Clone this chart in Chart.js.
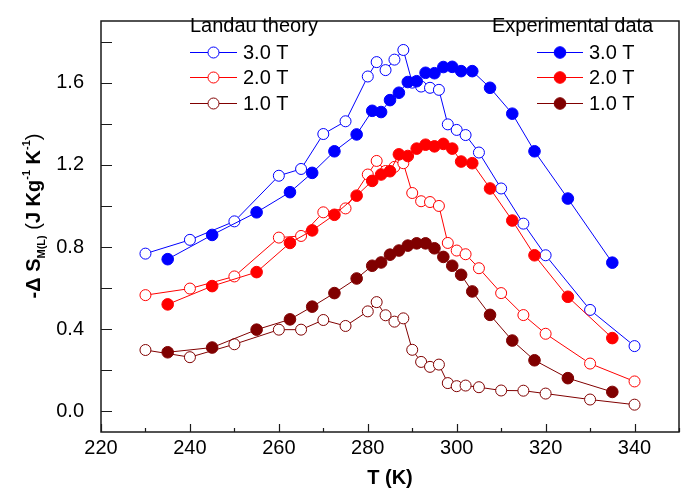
<!DOCTYPE html>
<html>
<head>
<meta charset="utf-8">
<script src="https://cdn.jsdelivr.net/npm/chart.js@4"></script>
<style>
  body { margin: 0; background: #fff; }
  canvas { display: block; }
</style>
</head>
<body>
<canvas id="chart" width="688" height="494"></canvas>
<script>
// Temperatures (K)
const tempLandau = [230, 240, 250, 260, 265, 270, 275, 280, 282, 284, 286, 288, 290, 292, 294, 296, 298, 300, 302, 305, 310, 315, 320, 330, 340];
const tempExp = [235, 245, 255, 262.5, 267.5, 272.5, 277.5, 281, 283, 285, 287, 289, 291, 293, 295, 297, 299, 301, 303.5, 307.5, 312.5, 317.5, 325, 335];

// Landau theory, -dS (J/kg K)
const landau3T = [0.768, 0.835, 0.925, 1.147, 1.180, 1.350, 1.412, 1.630, 1.700, 1.661, 1.712, 1.759, 1.600, 1.581, 1.575, 1.565, 1.397, 1.370, 1.345, 1.260, 1.085, 0.914, 0.760, 0.494, 0.318];
const landau2T = [0.566, 0.598, 0.657, 0.846, 0.854, 0.969, 0.988, 1.153, 1.219, 1.170, 1.190, 1.208, 1.063, 1.023, 1.019, 1.000, 0.820, 0.783, 0.765, 0.697, 0.576, 0.469, 0.378, 0.233, 0.146];
const landau1T = [0.299, 0.264, 0.327, 0.398, 0.398, 0.445, 0.416, 0.487, 0.532, 0.468, 0.437, 0.453, 0.300, 0.241, 0.217, 0.228, 0.138, 0.123, 0.126, 0.118, 0.102, 0.101, 0.087, 0.058, 0.033];

// Experimental data
const exp3T = [0.741, 0.859, 0.969, 1.067, 1.161, 1.266, 1.348, 1.463, 1.457, 1.515, 1.551, 1.603, 1.607, 1.648, 1.646, 1.676, 1.677, 1.656, 1.656, 1.575, 1.449, 1.266, 1.036, 0.724];
const exp2T = [0.521, 0.610, 0.678, 0.820, 0.881, 0.957, 1.050, 1.122, 1.153, 1.169, 1.251, 1.243, 1.279, 1.298, 1.290, 1.302, 1.279, 1.216, 1.208, 1.085, 0.929, 0.760, 0.558, 0.357];
const exp1T = [0.288, 0.311, 0.398, 0.448, 0.510, 0.576, 0.647, 0.709, 0.725, 0.763, 0.783, 0.807, 0.818, 0.818, 0.794, 0.752, 0.709, 0.665, 0.584, 0.470, 0.345, 0.249, 0.162, 0.095];

const fieldLabels = ['3.0 T', '2.0 T', '1.0 T'];
const xTicks = [220, 230, 240, 250, 260, 270, 280, 290, 300, 310, 320, 330, 340, 350];
const yTicks = [0, 0.2, 0.4, 0.6, 0.8, 1.0, 1.2, 1.4, 1.6, 1.8];

const colors = ['#0000ff', '#ff0000', '#800000'];
const FONT = 'Arial, "Liberation Sans", sans-serif';

const toPoints = (xs, ys) => xs.map((x, i) => ({ x: x, y: ys[i] }));

function openSet(label, data, color) {
  return {
    label: label,
    data: toPoints(tempLandau, data),
    showLine: true,
    borderColor: color,
    borderWidth: 1,
    pointRadius: 5.5,
    pointBorderWidth: 1,
    pointBackgroundColor: '#ffffff',
    pointBorderColor: color
  };
}

function filledSet(label, data, color) {
  return {
    label: label,
    data: toPoints(tempExp, data),
    showLine: true,
    borderColor: color,
    borderWidth: 1,
    pointRadius: 5.8,
    pointBorderWidth: 1,
    pointBackgroundColor: color,
    pointBorderColor: color
  };
}

// frame, inward ticks, legends and axis titles
const decorations = {
  id: 'decorations',
  afterDraw(chart) {
    const ctx = chart.ctx;
    const a = chart.chartArea;
    const xs = chart.scales.x, ys = chart.scales.y;
    ctx.save();
    ctx.strokeStyle = '#1a1a1a';
    ctx.lineWidth = 1.5;
    ctx.strokeRect(a.left, a.top, a.right - a.left, a.bottom - a.top);

    ctx.lineWidth = 1.2;
    ctx.beginPath();
    xTicks.forEach(t => {
      const px = Math.round(xs.getPixelForValue(t)) + 0.5;
      const len = t % 20 === 0 ? 8 : 4;
      ctx.moveTo(px, a.bottom);
      ctx.lineTo(px, a.bottom - len);
    });
    yTicks.forEach(t => {
      const py = Math.round(ys.getPixelForValue(t)) + 0.5;
      ctx.moveTo(a.left, py);
      ctx.lineTo(a.left + 11, py);
    });
    ctx.stroke();

    // legends
    function legendGroup(title, x0, lineL, lineR, textX, filled) {
      ctx.fillStyle = '#000';
      ctx.font = '20px ' + FONT;
      ctx.textBaseline = 'middle';
      ctx.textAlign = 'left';
      ctx.fillText(title, x0, 26);
      const rows = [52, 77, 103];
      fieldLabels.forEach((lab, i) => {
        const y = rows[i] + 0.5;
        ctx.strokeStyle = colors[i];
        ctx.lineWidth = 1;
        ctx.beginPath();
        ctx.moveTo(lineL, y);
        ctx.lineTo(lineR, y);
        ctx.stroke();
        const cx = (lineL + lineR) / 2;
        ctx.beginPath();
        ctx.arc(cx, y, filled ? 5.8 : 5.5, 0, Math.PI * 2);
        ctx.fillStyle = filled ? colors[i] : '#fff';
        ctx.fill();
        ctx.stroke();
        ctx.fillStyle = '#000';
        ctx.fillText(lab, textX, rows[i] + 1);
      });
    }
    legendGroup('Landau theory', 190, 190, 237, 243, false);
    legendGroup('Experimental data', 492, 537, 583, 589, true);

    // x title
    ctx.fillStyle = '#000';
    ctx.font = 'bold 20px ' + FONT;
    ctx.textAlign = 'center';
    ctx.textBaseline = 'middle';
    ctx.fillText('T (K)', (a.left + a.right) / 2, 478);

    // y title with sub/superscripts
    const parts = [
      { t: '-\u0394 S', f: 'bold 20px ', dy: 0 },
      { t: 'M(L)', f: 'bold 11px ', dy: 5 },
      { t: ' (', f: '20px ', dy: 0 },
      { t: 'J Kg', f: 'bold 20px ', dy: 0 },
      { t: '-1', f: 'bold 11px ', dy: -10 },
      { t: ' K', f: 'bold 20px ', dy: 0 },
      { t: '-1', f: 'bold 11px ', dy: -10 },
      { t: ')', f: '20px ', dy: 0 }
    ];
    ctx.textAlign = 'left';
    ctx.textBaseline = 'alphabetic';
    let total = 0;
    parts.forEach(p => { ctx.font = p.f + FONT; p.w = ctx.measureText(p.t).width; total += p.w; });
    ctx.translate(40, 216);
    ctx.rotate(-Math.PI / 2);
    let cx = -total / 2;
    parts.forEach(p => {
      ctx.font = p.f + FONT;
      ctx.fillText(p.t, cx, p.dy);
      cx += p.w;
    });
    ctx.restore();
  }
};

new Chart(document.getElementById('chart'), {
  type: 'scatter',
  data: {
    datasets: [
      filledSet('Experimental ' + fieldLabels[0], exp3T, colors[0]),
      filledSet('Experimental ' + fieldLabels[1], exp2T, colors[1]),
      filledSet('Experimental ' + fieldLabels[2], exp1T, colors[2]),
      openSet('Landau ' + fieldLabels[0], landau3T, colors[0]),
      openSet('Landau ' + fieldLabels[1], landau2T, colors[1]),
      openSet('Landau ' + fieldLabels[2], landau1T, colors[2])
    ]
  },
  options: {
    responsive: false,
    animation: false,
    layout: { padding: { top: 9, right: 9, left: 0, bottom: 0 } },
    plugins: {
      legend: { display: false },
      tooltip: { enabled: false }
    },
    scales: {
      x: {
        type: 'linear',
        min: 220,
        max: 350,
        grid: { display: false },
        border: { display: false },
        afterBuildTicks: s => { s.ticks = xTicks.map(v => ({ value: v })); },
        afterFit: s => { s.height = 62; },
        ticks: {
          color: '#000',
          padding: -4,
          maxRotation: 0,
          autoSkip: false,
          font: { family: FONT, size: 20 },
          callback: v => (v % 20 === 0 && v <= 340) ? String(v) : ''
        }
      },
      y: {
        type: 'linear',
        min: -0.1,
        max: 1.9,
        grid: { display: false },
        border: { display: false },
        afterBuildTicks: s => { s.ticks = yTicks.map(v => ({ value: v })); },
        afterFit: s => { s.width = 101; },
        ticks: {
          color: '#000',
          padding: 9,
          autoSkip: false,
          font: { family: FONT, size: 20 },
          callback: v => (Math.abs(Math.round(v / 0.4) * 0.4 - v) < 1e-6) ? v.toFixed(1) : ''
        }
      }
    }
  },
  plugins: [decorations]
});
</script>
</body>
</html>
